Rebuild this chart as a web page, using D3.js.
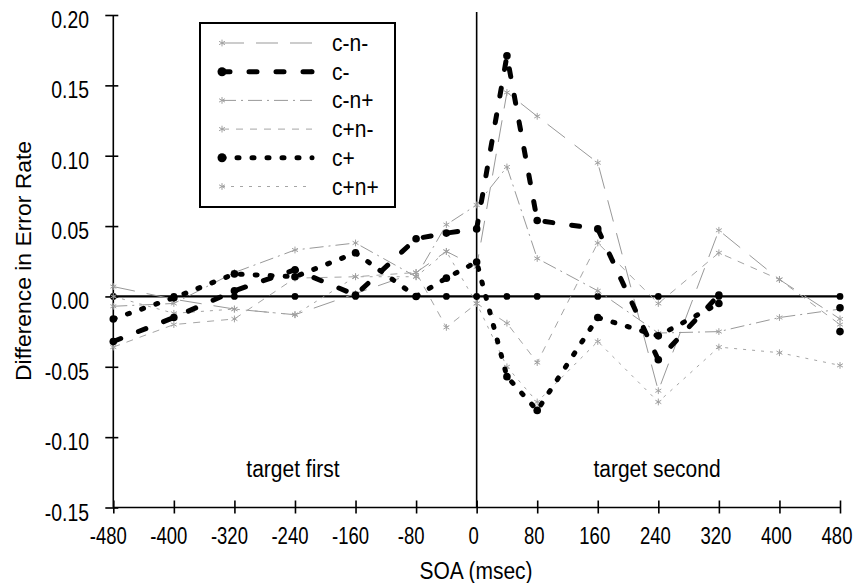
<!DOCTYPE html>
<html><head><meta charset="utf-8">
<script src="https://cdn.jsdelivr.net/npm/d3@7"></script>
<style>
body{margin:0;background:#fff}
text{font-family:"Liberation Sans",Arial,Helvetica,sans-serif;fill:#000}
</style>
</head><body>
<svg id="chart" width="858" height="583"></svg>
<script>
// ---- data ----
const soa = [-480,-400,-320,-240,-160,-80,-40,0,40,80,160,240,320,400,480];
const xTickValues = [-480,-400,-320,-240,-160,-80,0,80,160,240,320,400,480];
const yTickValues = [-0.15,-0.10,-0.05,0.00,0.05,0.10,0.15,0.20];
const yTickLabels = ["-0.15","-0.10","-0.05","0.00","0.05","0.10","0.15","0.20"];
const seriesNames = ["c-n-","c-","c-n+","c+n-","c+","c+n+"];
const cnMinusNMinus = [0.007,-0.002,-0.009,-0.013,0.002,0.017,0.032,0.021,0.145,0.128,0.095,-0.067,0.047,0.012,-0.016];
const cMinus        = [-0.032,-0.015,0.004,0.019,0.001,0.041,0.045,0.048,0.171,0.054,0.048,-0.045,0.001,null,-0.008];
const cnMinusNPlus  = [-0.007,-0.005,0.017,0.033,0.038,0.014,0.051,0.065,0.092,0.027,0.004,-0.026,-0.025,-0.015,-0.009];
const cnPlusNMinus  = [-0.036,-0.020,-0.016,0.013,0.014,0.017,-0.022,-0.005,-0.019,-0.047,0.038,-0.005,0.031,0.012,-0.020];
const cPlus         = [-0.016,-0.001,0.016,0.014,0.031,0.000,0.013,0.0245,-0.057,-0.081,-0.015,-0.028,-0.005,null,-0.025];
const cnPlusNPlus   = [0.000,-0.012,-0.009,-0.013,0.014,0.014,0.032,-0.005,-0.050,-0.075,-0.032,-0.075,-0.036,-0.040,-0.049];
const xTitle = "SOA (msec)";
const yTitle = "Difference in Error Rate";
const regionLabels = ["target first","target second"];

// ---- styles ----
const styles = {
  "c-n-": {values:cnMinusNMinus, color:"#999", width:1, dash:"22,12", dot:false},
  "c-":   {values:cMinus,        color:"#000", width:5, dash:"8,19",  dot:true, cap:"round"},
  "c-n+": {values:cnMinusNPlus,  color:"#999", width:1, dash:"14,5,2,5", dot:false},
  "c+n-": {values:cnPlusNMinus,  color:"#a5a5a5", width:1, dash:"7,7", dot:false},
  "c+":   {values:cPlus,         color:"#000", width:5, dash:"2,13",  dot:true, cap:"round"},
  "c+n+": {values:cnPlusNPlus,   color:"#a5a5a5", width:1, dash:"3,6", dot:false}
};

const svg = d3.select("#chart");
const x = d3.scaleLinear().domain([-480,480]).range([113.3,840]);
const y = d3.scaleLinear().domain([-0.15,0.20]).range([507.5,15]);

function txt(px, py, str, opt={}){
  const sx = opt.sx||1, sy = opt.sy||1, rot = opt.rot ? ` rotate(${opt.rot})` : "";
  svg.append("g").attr("transform",`translate(${px},${py})${rot} scale(${sx},${sy})`)
    .append("text").attr("text-anchor",opt.anchor||"start")
    .attr("font-size",opt.size||20).text(str);
}

// ---- axes ----
const yAxis = svg.append("g").attr("transform",`translate(${x(-480)},0)`)
  .call(d3.axisLeft(y).tickValues(yTickValues).tickSize(8).tickFormat(""));
yAxis.select(".domain").attr("d",`M0,${y(0.20)}V${y(-0.15)}`).attr("stroke","#000").attr("stroke-width",1.6);
yAxis.selectAll(".tick line").attr("x1",5).attr("x2",-8).attr("stroke-width",1.6);

const xAxis = svg.append("g").attr("transform",`translate(0,${y(-0.15)})`)
  .call(d3.axisBottom(x).tickValues(xTickValues).tickSize(6).tickFormat(""));
xAxis.select(".domain").attr("d",`M${x(-480)},0H${x(480)}`).attr("stroke","#000").attr("stroke-width",1.6);
xAxis.selectAll(".tick line").attr("y1",-7).attr("y2",6).attr("stroke-width",1.6);

yTickValues.forEach((v,i)=>txt(89, y(v)+13, yTickLabels[i], {anchor:"end", size:20, sx:0.97, sy:1.22}));
xTickValues.forEach(v=>txt(x(v)-(v<0?5:3), y(-0.15)+36, String(v), {anchor:"middle", size:18.5, sy:1.25}));

txt(476, 579, xTitle, {anchor:"middle", size:21, sy:1.15});
txt(31, 261, yTitle, {anchor:"middle", size:21, rot:-90, sx:1.09, sy:1.05});

// zero reference line & vertical line at SOA 0
svg.append("line").attr("x1",x(-480)).attr("x2",x(480)).attr("y1",y(0)).attr("y2",y(0))
  .attr("stroke","#000").attr("stroke-width",2.2);
svg.selectAll(".zdot").data(soa.filter((d,i)=>cMinus[i]!==null)).enter().append("circle")
  .attr("cx",d=>x(d)).attr("cy",y(0)).attr("r",3.4).attr("fill","#000");
svg.append("line").attr("x1",x(0)).attr("x2",x(0)).attr("y1",12).attr("y2",y(-0.15))
  .attr("stroke","#000").attr("stroke-width",1.6);

// region labels
txt(293, 477, regionLabels[0], {anchor:"middle", size:21, sy:1.15});
txt(657, 477, regionLabels[1], {anchor:"middle", size:21, sy:1.15});

// ---- series ----
const line = d3.line().defined(d=>d.v!==null).x(d=>x(d.s)).y(d=>y(d.v));
const asterisk = d3.symbol().type(d3.symbolAsterisk).size(32);
const drawOrder = ["c-n-","c-n+","c+n-","c+n+","c+","c-"];
drawOrder.forEach(name=>{
  const st = styles[name];
  const pts = soa.map((s,i)=>({s, v:st.values[i]}));
  svg.append("path").datum(pts).attr("d",line).attr("fill","none")
    .attr("stroke",st.color).attr("stroke-width",st.width)
    .attr("stroke-dasharray",st.dash).attr("stroke-linecap",st.cap||"butt")
    .attr("stroke-linejoin","round");
  const defined = pts.filter(d=>d.v!==null);
  if(st.dot){
    svg.selectAll(null).data(defined).enter().append("circle")
      .attr("cx",d=>x(d.s)).attr("cy",d=>y(d.v)).attr("r",3.8).attr("fill","#000");
  } else {
    svg.selectAll(null).data(defined).enter().append("path")
      .attr("d",asterisk).attr("transform",d=>`translate(${x(d.s)},${y(d.v)})`)
      .attr("fill","none").attr("stroke","#a0a0a0").attr("stroke-width",1);
  }
});

// ---- legend ----
const lg = svg.append("g");
lg.append("rect").attr("x",200).attr("y",23).attr("width",195).attr("height",184)
  .attr("fill","#fff").attr("stroke","#000").attr("stroke-width",2);
seriesNames.forEach((name,i)=>{
  const st = styles[name];
  const ry = 43 + i*28.7;
  lg.append("line").attr("x1",222).attr("x2",312).attr("y1",ry).attr("y2",ry)
    .attr("stroke",st.color).attr("stroke-width",st.width)
    .attr("stroke-dasharray",st.dash).attr("stroke-linecap",st.cap||"butt");
  if(st.dot){
    lg.append("circle").attr("cx",222).attr("cy",ry).attr("r",4.5).attr("fill","#000");
    lg.append("circle").attr("cx",312).attr("cy",ry).attr("r",2.5).attr("fill","#000");
  } else {
    lg.append("path").attr("d",asterisk).attr("transform",`translate(222,${ry})`)
      .attr("fill","none").attr("stroke","#a0a0a0").attr("stroke-width",1);
  }
  txt(332, ry+8, name, {size:21, sy:1.15});
});
</script>
</body></html>
